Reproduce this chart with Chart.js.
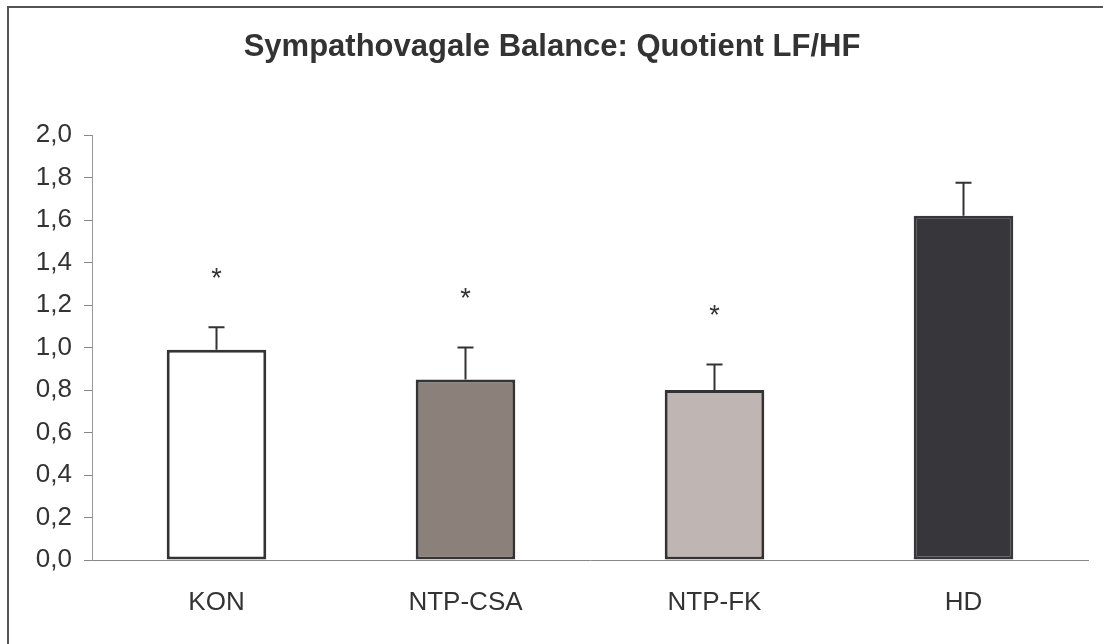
<!DOCTYPE html>
<html>
<head>
<meta charset="utf-8">
<script src="https://cdn.jsdelivr.net/npm/chart.js@4/dist/chart.umd.min.js"></script>
<style>
  html, body { margin: 0; padding: 0; background: #fff; }
  #wrap { width: 1103px; height: 644px; position: relative; }
</style>
</head>
<body>
<div id="wrap"><canvas id="c" width="1103" height="644"></canvas></div>
<script>
const titleText = 'Sympathovagale Balance: Quotient LF/HF';
const categories = ['KON', 'NTP-CSA', 'NTP-FK', 'HD'];
const means = [0.99, 0.85, 0.80, 1.62];
const errors = [0.105, 0.15, 0.12, 0.155];
const significance = ['*', '*', '*', ''];
const yTicks = [0, 0.2, 0.4, 0.6, 0.8, 1.0, 1.2, 1.4, 1.6, 1.8, 2.0];
const barColors = ['#ffffff', '#8c807b', '#bfb6b3', '#37363b'];
const barBorders = ['#333333', '#333333', '#333333', '#37363b'];

const FONT = '"Liberation Sans", Arial, sans-serif';

const framePlugin = {
  id: 'frame',
  beforeDraw(chart) {
    const ctx = chart.ctx;
    ctx.save();
    ctx.fillStyle = '#ffffff';
    ctx.fillRect(0, 0, chart.width, chart.height);
    ctx.strokeStyle = '#555555';
    ctx.lineWidth = 2;
    ctx.beginPath();
    ctx.moveTo(8, chart.height + 5);
    ctx.lineTo(8, 7);
    ctx.lineTo(chart.width + 5, 7);
    ctx.stroke();
    ctx.fillStyle = '#333333';
    ctx.font = 'bold 31px ' + FONT;
    ctx.textAlign = 'center';
    ctx.textBaseline = 'middle';
    ctx.fillText(titleText, 552, 47);
    ctx.restore();
  }
};

const errorPlugin = {
  id: 'errors',
  afterDatasetsDraw(chart) {
    const ctx = chart.ctx;
    const meta = chart.getDatasetMeta(0);
    const y = chart.scales.y;
    ctx.save();
    ctx.strokeStyle = '#333333';
    ctx.lineWidth = 2;
    meta.data.forEach((bar, i) => {
      const x = bar.x;
      const yTop = y.getPixelForValue(means[i] + errors[i]);
      const yBase = y.getPixelForValue(means[i]);
      ctx.beginPath();
      ctx.moveTo(x, yBase);
      ctx.lineTo(x, yTop);
      ctx.moveTo(x - 8, yTop);
      ctx.lineTo(x + 8, yTop);
      ctx.stroke();
      if (significance[i]) {
        ctx.fillStyle = '#333333';
        ctx.font = '27px ' + FONT;
        ctx.textAlign = 'center';
        ctx.textBaseline = 'middle';
        ctx.fillText(significance[i], x, yTop - 48);
      }
    });
    ctx.restore();
  }
};

new Chart(document.getElementById('c'), {
  type: 'bar',
  data: {
    labels: categories,
    datasets: [{
      data: means,
      backgroundColor: barColors,
      borderColor: barBorders,
      borderWidth: 3,
      borderSkipped: false,
      barPercentage: 0.4,
      categoryPercentage: 1.0
    }]
  },
  options: {
    responsive: false,
    animation: false,
    devicePixelRatio: 1,
    layout: { padding: { top: 135, right: 15, left: 0, bottom: 0 } },
    plugins: {
      legend: { display: false },
      title: { display: false },
      tooltip: { enabled: false }
    },
    scales: {
      x: {
        grid: { display: false },
        border: { display: true, color: '#888888', width: 1 },
        ticks: { color: '#333333', font: { family: FONT, size: 26 }, padding: 19 },
        afterFit(scale) { scale.height = 84; }
      },
      y: {
        min: 0, max: 2.0,
        afterBuildTicks(scale) { scale.ticks = yTicks.map(v => ({ value: v })); },
        grid: { drawOnChartArea: false, drawTicks: true, tickLength: 8, color: '#888888' },
        border: { display: true, color: '#999999', width: 1 },
        ticks: {
          color: '#333333',
          font: { family: FONT, size: 26 },
          padding: 12,
          callback: v => v.toFixed(1).replace('.', ',')
        },
        afterFit(scale) { scale.width = 92; }
      }
    }
  },
  plugins: [framePlugin, errorPlugin]
});
</script>
</body>
</html>
